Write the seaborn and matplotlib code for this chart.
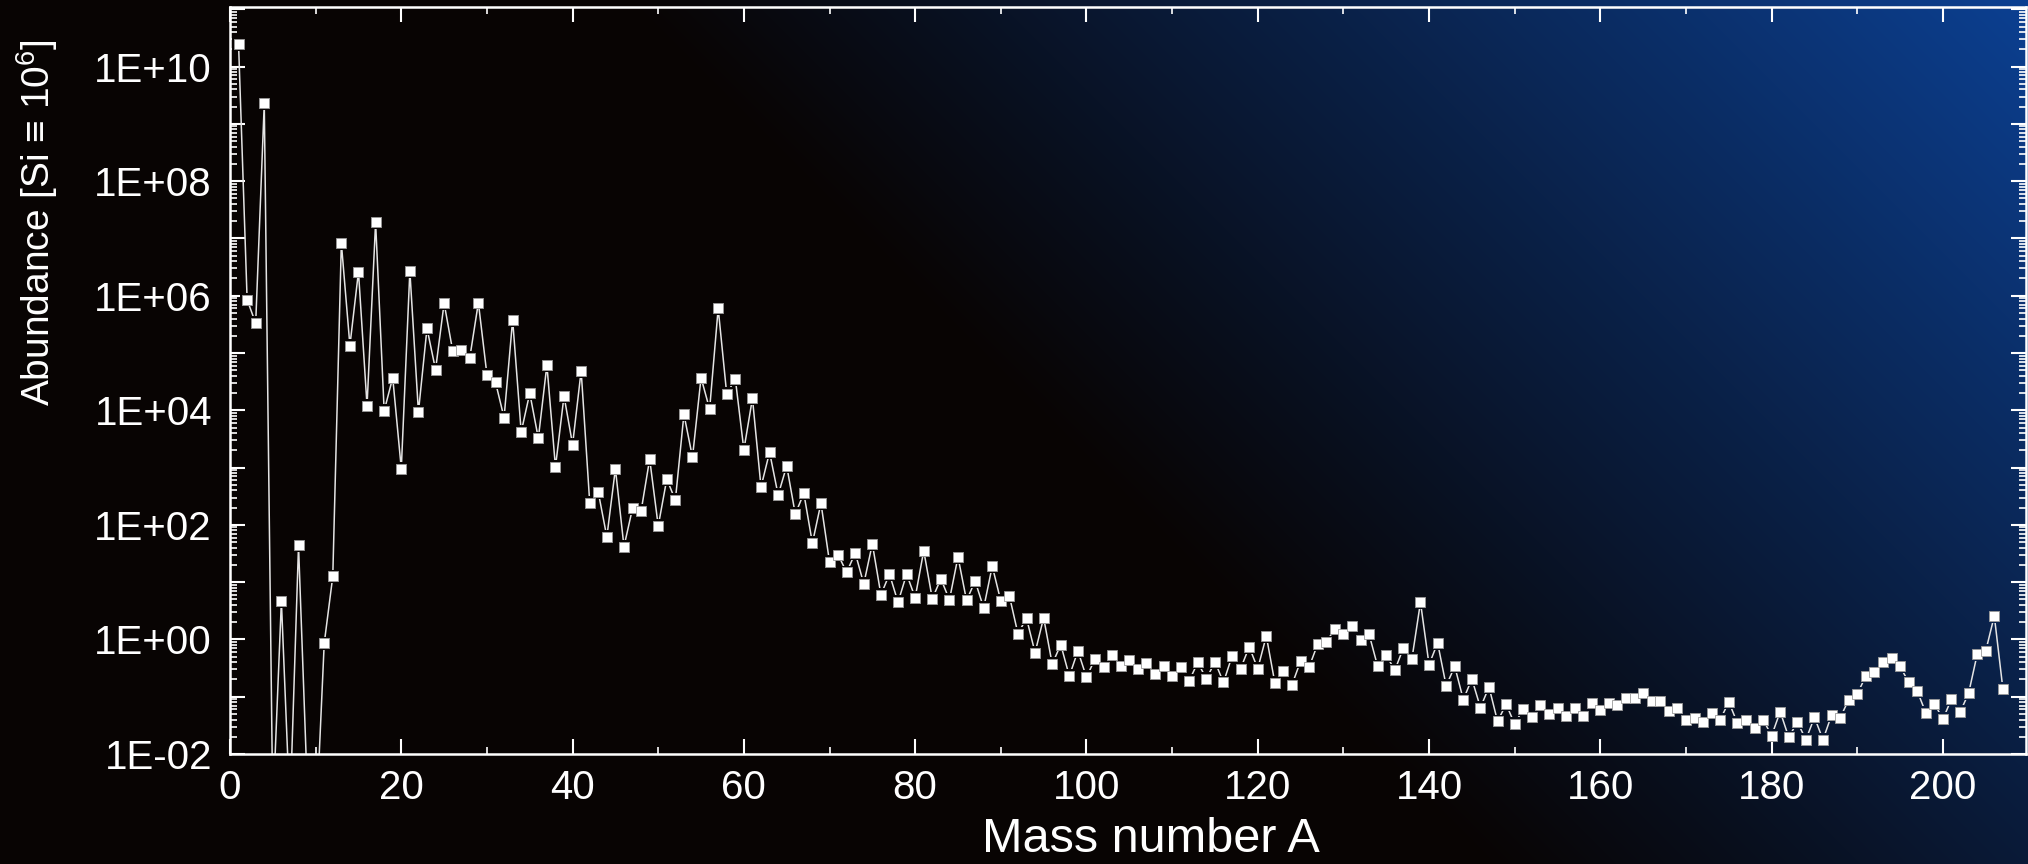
import numpy as np
import pandas as pd
import matplotlib
matplotlib.use("Agg")
import matplotlib.pyplot as plt
import seaborn as sns
from matplotlib.ticker import LogLocator, FuncFormatter, NullFormatter, MultipleLocator

# Solar-system abundance per mass number, normalised to Si = 1e6 (stored as log10)
mass_number = list(range(1, 208))
log10_abundance = [
    10.39, 5.93, 5.52, 9.36, -3.0, 0.67, -3.0, 1.64, -2.5, -3.4,      # 1-10
    -0.07, 1.10, 6.92, 5.13, 6.42, 4.08, 7.28, 3.99, 4.57, 2.98,      # 11-20
    6.43, 3.97, 5.43, 4.71, 5.87, 5.04, 5.06, 4.92, 5.88, 4.62,       # 21-30
    4.49, 3.87, 5.58, 3.62, 4.30, 3.51, 4.79, 3.01, 4.25, 3.40,       # 31-40
    4.69, 2.39, 2.57, 1.79, 2.98, 1.62, 2.29, 2.24, 3.15, 1.98,       # 41-50
    2.80, 2.43, 3.93, 3.18, 4.57, 4.02, 5.78, 4.28, 4.55, 3.31,       # 51-60
    4.21, 2.66, 3.27, 2.52, 3.03, 2.19, 2.55, 1.68, 2.38, 1.35,       # 61-70
    1.48, 1.17, 1.51, 0.97, 1.67, 0.78, 1.14, 0.65, 1.14, 0.73,       # 71-80
    1.55, 0.71, 1.06, 0.69, 1.44, 0.68, 1.02, 0.55, 1.28, 0.67,       # 81-90
    0.76, 0.10, 0.37, -0.23, 0.38, -0.43, -0.09, -0.64, -0.20, -0.66, # 91-100
    -0.34, -0.48, -0.27, -0.47, -0.36, -0.52, -0.42, -0.60, -0.46, -0.64,  # 101-110
    -0.48, -0.72, -0.40, -0.69, -0.39, -0.75, -0.29, -0.51, -0.13, -0.51,  # 111-120
    0.06, -0.76, -0.55, -0.79, -0.38, -0.48, -0.08, -0.05, 0.19, 0.09,     # 121-130
    0.23, -0.01, 0.09, -0.47, -0.27, -0.54, -0.15, -0.34, 0.65, -0.44,     # 131-140
    -0.06, -0.81, -0.47, -1.05, -0.69, -1.19, -0.83, -1.43, -1.13, -1.48,  # 141-150
    -1.21, -1.35, -1.15, -1.30, -1.20, -1.33, -1.19, -1.34, -1.11, -1.23,  # 151-160
    -1.11, -1.14, -1.02, -1.02, -0.94, -1.08, -1.08, -1.25, -1.19, -1.40,  # 161-170
    -1.37, -1.45, -1.29, -1.40, -1.09, -1.46, -1.40, -1.55, -1.40, -1.68,  # 171-180
    -1.26, -1.71, -1.44, -1.75, -1.36, -1.75, -1.32, -1.37, -1.05, -0.95,  # 181-190
    -0.64, -0.57, -0.40, -0.33, -0.47, -0.75, -0.90, -1.28, -1.12, -1.39,  # 191-200
    -1.04, -1.27, -0.94, -0.26, -0.20, 0.41, -0.86,                        # 201-207
]

x_ticks = [0, 20, 40, 60, 80, 100, 120, 140, 160, 180, 200]
x_label = "Mass number A"
y_label = "Abundance [Si \u2261 10$^{6}$]"

df = pd.DataFrame({
    "A": mass_number,
    "abundance": 10.0 ** np.asarray(log10_abundance),
})

sns.set_style("ticks")
plt.rcParams["font.family"] = ["Liberation Sans", "DejaVu Sans"]
plt.rcParams["mathtext.default"] = "regular"

W, H = 2028, 864
fig = plt.figure(figsize=(W / 100, H / 100), dpi=100)

# Dark backdrop with a diagonal blue glow toward the upper-right corner
yy, xx = np.mgrid[0:H, 0:W]
diag = (xx - yy).astype(float)
glow = np.clip((diag - 620.0) / (W - 620.0), 0, 1) ** 1.05
dark = np.array([8, 4, 3]) / 255.0
blue = np.array([12, 64, 146]) / 255.0
bg_img = dark + glow[..., None] * (blue - dark)

bg = fig.add_axes([0, 0, 1, 1])
bg.imshow(bg_img, extent=(0, 1, 0, 1), aspect="auto", origin="upper", interpolation="bilinear")
bg.set_axis_off()
bg.set_zorder(0)

ax = fig.add_axes([230 / W, 1 - 754 / H, 1796 / W, 747 / H])
ax.set_zorder(1)
ax.patch.set_visible(False)

sns.lineplot(data=df, x="A", y="abundance", ax=ax, color="#e4e4e4",
             linewidth=1.1, estimator=None, sort=False, zorder=2)
ax.set_yscale("log")
ax.set_xlim(0, 209.7)
ax.set_ylim(1e-2, 10 ** 11.04)

# Background-coloured halo behind each marker so the line stops short of it
fig.canvas.draw()
disp = ax.transData.transform(np.column_stack([df["A"], df["abundance"]]))
cols = []
for px, py in disp:
    c, r = int(np.clip(px, 0, W - 1)), int(np.clip(H - py, 0, H - 1))
    cols.append(bg_img[r, c])
ax.scatter(df["A"], df["abundance"], marker="s", s=95, c=cols,
           edgecolors="none", zorder=3, clip_on=True)
sns.scatterplot(data=df, x="A", y="abundance", ax=ax, marker="s", s=44,
                color="white", edgecolor="#9a9a9a", linewidth=0.6,
                zorder=4, legend=False)

# Axes styling
ax.xaxis.set_minor_locator(MultipleLocator(10))
ax.set_xticks(x_ticks)
ax.yaxis.set_major_locator(LogLocator(base=10, numticks=50))
ax.yaxis.set_minor_locator(LogLocator(base=10, subs=np.arange(2, 10) * 1.0, numticks=500))
ax.yaxis.set_minor_formatter(NullFormatter())


def sci_label(v, pos):
    e = int(round(np.log10(v)))
    return f"1E{e:+03d}" if e % 2 == 0 else ""


ax.yaxis.set_major_formatter(FuncFormatter(sci_label))

ax.tick_params(which="both", direction="in", top=True, right=True,
               colors="white", labelcolor="white")
ax.tick_params(which="major", length=10.5, width=1.5, labelsize=29)
ax.tick_params(axis="y", which="major", pad=13)
ax.tick_params(axis="x", which="major", pad=11)
ax.tick_params(which="minor", length=5, width=1.2)

for sp in ax.spines.values():
    sp.set_color("white")
    sp.set_linewidth(1.8)
    sp.set_visible(True)

ax.set_xlabel(x_label, color="white", fontsize=35, va="baseline")
ax.xaxis.set_label_coords(0.5125, -0.1312)
ax.set_ylabel(y_label, color="white", fontsize=28, va="center")
ax.yaxis.set_label_coords(-0.1075, 0.711)
ax.grid(False)

fig.savefig("out.png", dpi=100, facecolor=fig.get_facecolor())
